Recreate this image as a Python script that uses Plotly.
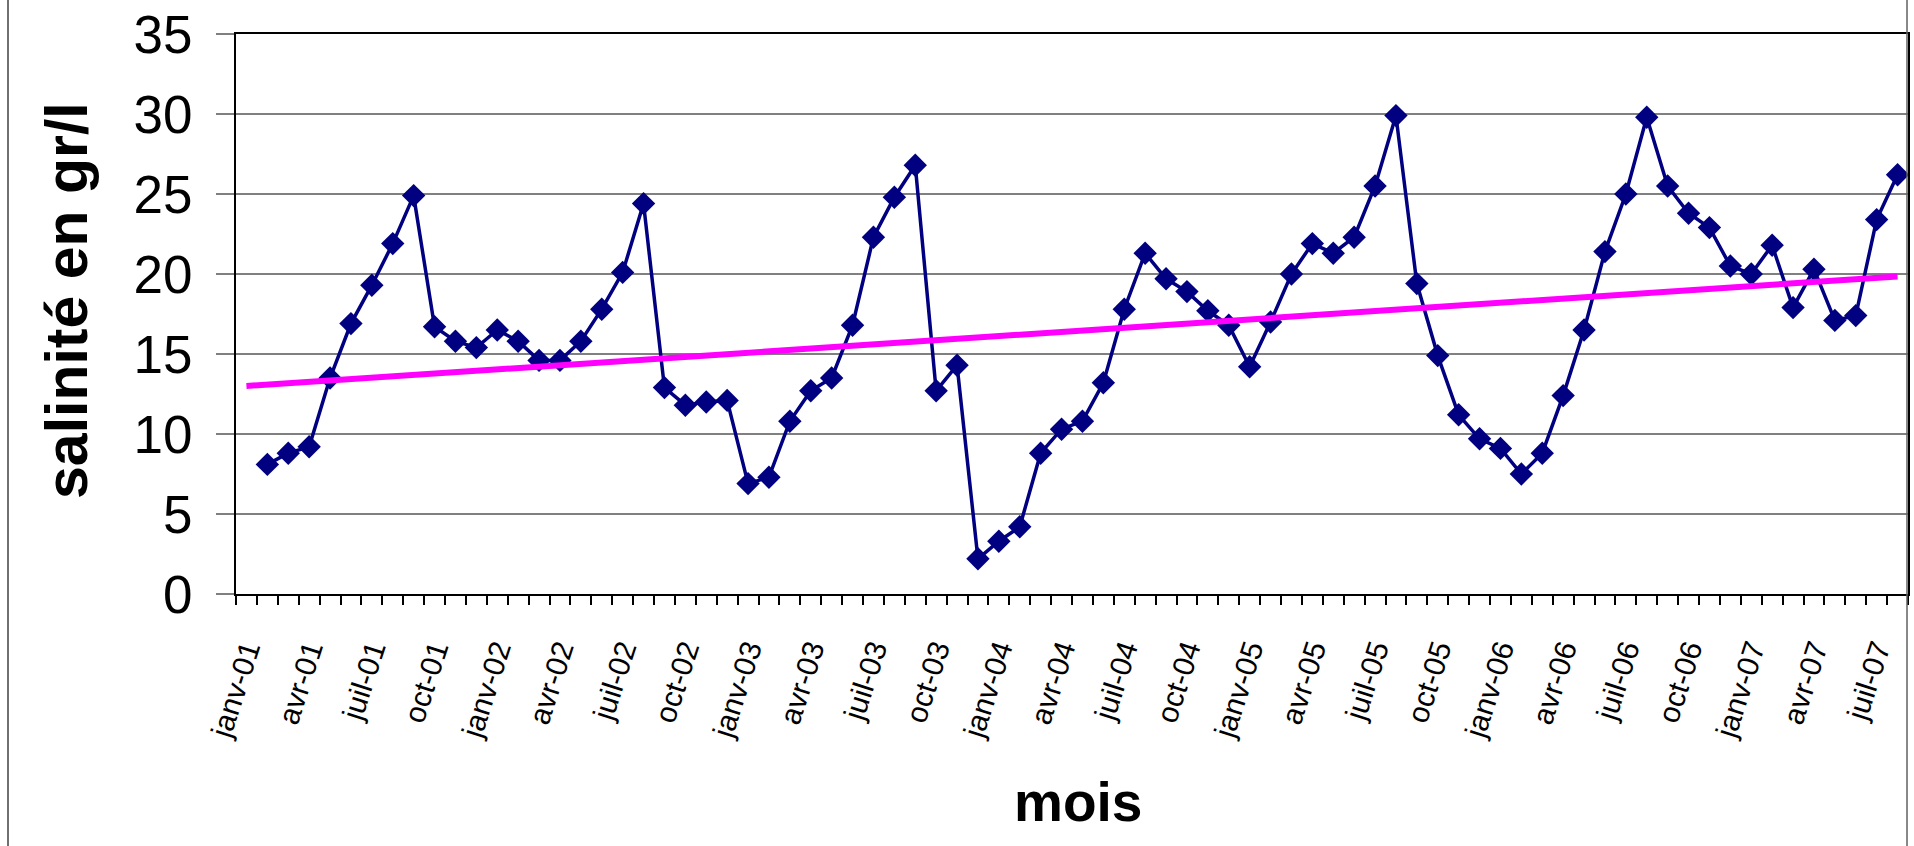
import plotly.graph_objects as go

# ---- data ----
month_abbr = ["janv", "févr", "mars", "avr", "mai", "juin",
              "juil", "août", "sept", "oct", "nov", "déc"]
years = ["01", "02", "03", "04", "05", "06", "07"]
months = [f"{m}-{y}" for y in years for m in month_abbr][:80]  # janv-01 .. août-07

# salinity (g/l), monthly from févr-01 to août-07
salinity = [
    8.1, 8.8, 9.2, 13.5, 16.9, 19.3, 21.9, 24.9, 16.7, 15.8, 15.4,
    16.5, 15.8, 14.6, 14.6, 15.8, 17.8, 20.1, 24.4, 12.9, 11.8, 12.0, 12.1,
    6.9, 7.3, 10.8, 12.7, 13.5, 16.8, 22.3, 24.8, 26.8, 12.7, 14.3, 2.2,
    3.3, 4.2, 8.8, 10.3, 10.8, 13.2, 17.8, 21.3, 19.7, 18.9, 17.7, 16.8,
    14.2, 17.0, 20.0, 21.9, 21.3, 22.3, 25.5, 29.9, 19.4, 14.9, 11.2,
    9.7, 9.1, 7.5, 8.8, 12.4, 16.5, 21.4, 25.0, 29.8, 25.5, 23.8, 22.9,
    20.5, 20.0, 21.8, 17.9, 20.3, 17.1, 17.4, 23.4, 26.2,
]
salinity_months = months[1:]

trend_months = ["janv-01", "août-07"]
trend_values = [13.0, 19.85]

tick_labels = months[::3]
y_ticks = [0, 5, 10, 15, 20, 25, 30, 35]

# ---- figure ----
W, H = 1914, 846
ML, MR, MT, MB = 236, 6, 34, 252
PW, PH = W - ML - MR, H - MT - MB

def px_x(p):
    return (p - ML) / PW

def px_y(p):
    return (H - MB - p) / PH

idx = {m: i for i, m in enumerate(months)}
FONT = "Liberation Sans, Arial, sans-serif"

fig = go.Figure()
fig.add_trace(go.Scatter(
    x=[idx[m] for m in salinity_months], y=salinity,
    mode="lines+markers",
    line=dict(color="#000080", width=3.5),
    marker=dict(symbol="diamond", size=18, color="#000080"),
    showlegend=False, hoverinfo="skip",
))
fig.add_trace(go.Scatter(
    x=[idx[m] for m in trend_months], y=trend_values,
    xaxis="x2", mode="lines",
    line=dict(color="#FF00FF", width=6),
    showlegend=False, hoverinfo="skip",
))

xrange = [-0.5, len(months) - 0.5]
fig.update_layout(
    template="none",
    width=W, height=H,
    margin=dict(l=ML, r=MR, t=MT, b=MB, pad=0, autoexpand=False),
    paper_bgcolor="white", plot_bgcolor="white",
    font=dict(family=FONT, color="black"),
    xaxis=dict(
        range=xrange, showgrid=False, zeroline=False, automargin=False,
        showline=True, linecolor="black", linewidth=2, mirror=True,
        tickmode="array",
        tickvals=[idx[m] for m in tick_labels], ticktext=tick_labels,
        ticks="", tickangle=-72,
        tickfont=dict(family=FONT, size=30, color="black"),
        ticklabelstandoff=24,
    ),
    xaxis2=dict(
        range=xrange, overlaying="x", anchor="y", side="bottom",
        showgrid=False, zeroline=False, showline=False, automargin=False,
        tickmode="linear", tick0=-0.5, dtick=1,
        ticks="outside", ticklen=10, tickwidth=1.5, tickcolor="black",
        showticklabels=False,
    ),
    yaxis=dict(
        range=[0, 35], tickmode="array", tickvals=y_ticks, automargin=False,
        showgrid=True, gridcolor="#808080", gridwidth=1.5, zeroline=False,
        showline=True, linecolor="black", linewidth=2, mirror=True,
        ticks="outside", ticklen=18, tickcolor="#808080", tickwidth=1.5,
        tickfont=dict(family=FONT, size=53, color="black"),
        ticklabelstandoff=13,
    ),
    annotations=[
        dict(text="<b>salinité en gr/l</b>", textangle=-90,
             x=px_x(67), y=px_y(301), xref="paper", yref="paper",
             xanchor="center", yanchor="middle", showarrow=False,
             font=dict(family=FONT, size=59, color="black")),
        dict(text="<b>mois</b>",
             x=px_x(1078), y=px_y(802), xref="paper", yref="paper",
             xanchor="center", yanchor="middle", showarrow=False,
             font=dict(family=FONT, size=55, color="black")),
    ],
    shapes=[
        dict(type="line", xref="paper", yref="paper",
             x0=px_x(8), x1=px_x(8), y0=px_y(0), y1=px_y(H),
             line=dict(color="#404040", width=1.5)),
        dict(type="line", xref="paper", yref="paper",
             x0=px_x(1907), x1=px_x(1907), y0=px_y(0), y1=px_y(H),
             line=dict(color="#606060", width=1.5)),
    ],
)

fig.write_html("out.html", config={"displayModeBar": False},
               post_script="document.body.style.margin='0';")
